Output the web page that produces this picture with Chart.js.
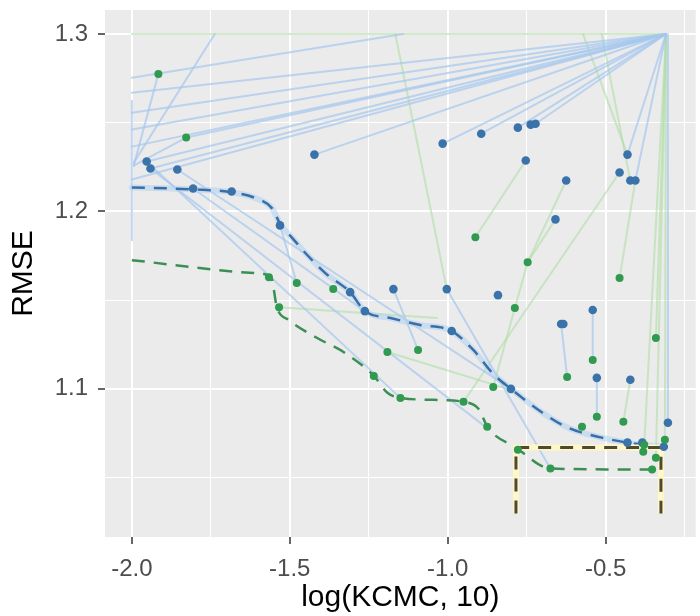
<!DOCTYPE html>
<html>
<head>
<meta charset="utf-8">
<script src="https://cdn.jsdelivr.net/npm/chart.js@4.4.0/dist/chart.umd.min.js"></script>
<style>
  html, body { margin: 0; padding: 0; background: #fff; }
  #wrap { width: 700px; height: 616px; }
</style>
</head>
<body>
<div id="wrap"><canvas id="chart" width="700" height="616"></canvas></div>
<script>
// axis ranges and ticks
const xLimits = [-2.085, -0.215];
const yLimits = [1.0165, 1.3135];
const xMajorTicks = [-2.0, -1.5, -1.0, -0.5];
const xMinorTicks = [-1.75, -1.25, -0.75, -0.25];
const yMajorTicks = [1.1, 1.2, 1.3];
const yMinorTicks = [1.05, 1.15, 1.25];

// configurations (dark dots)
const bluePoints = [
  [-1.953, 1.2281], [-1.941, 1.2242], [-1.856, 1.2236], [-1.806, 1.2129], [-1.684, 1.2112],
  [-1.531, 1.1921], [-1.422, 1.232], [-1.309, 1.1545], [-1.2625, 1.1438], [-1.172, 1.1562],
  [-1.016, 1.2382], [-1.003, 1.1562], [-0.9875, 1.1326], [-0.894, 1.2438], [-0.841, 1.1528],
  [-0.8, 1.1], [-0.778, 1.2472], [-0.753, 1.2287], [-0.7375, 1.2489], [-0.722, 1.2494],
  [-0.659, 1.1955], [-0.641, 1.1365], [-0.634, 1.1365], [-0.625, 1.2174], [-0.541, 1.1444],
  [-0.528, 1.1062], [-0.456, 1.2219], [-0.431, 1.232], [-0.422, 1.2174], [-0.406, 1.2174],
  [-0.422, 1.1051], [-0.431, 1.0697], [-0.384, 1.0697], [-0.316, 1.0674], [-0.303, 1.0809]
];
const greenPoints = [
  [-1.916, 1.2775], [-1.828, 1.2416], [-1.566, 1.1629], [-1.534, 1.146], [-1.478, 1.1596],
  [-1.3625, 1.1562], [-1.234, 1.1073], [-1.191, 1.1208], [-1.15, 1.0949], [-1.094, 1.1219],
  [-0.95, 1.0927], [-0.9125, 1.1854], [-0.875, 1.0787], [-0.856, 1.1011], [-0.7875, 1.1455],
  [-0.778, 1.0657], [-0.747, 1.1713], [-0.675, 1.0551], [-0.622, 1.1067], [-0.575, 1.0787],
  [-0.541, 1.1163], [-0.528, 1.0843], [-0.456, 1.1624], [-0.444, 1.0815], [-0.381, 1.0646],
  [-0.378, 1.0685], [-0.353, 1.0545], [-0.341, 1.0612], [-0.341, 1.1287], [-0.3125, 1.0713]
];

// best-so-far fronts (dashed)
const blueFront = [
  [-2.0, 1.2135], [-1.806, 1.2124], [-1.681, 1.2107], [-1.606, 1.2073], [-1.556, 1.2017],
  [-1.528, 1.1921], [-1.494, 1.1854], [-1.45, 1.1764], [-1.3875, 1.1652], [-1.309, 1.1545],
  [-1.2625, 1.1438], [-1.181, 1.1399], [-1.0875, 1.136], [-0.9875, 1.1326], [-0.919, 1.1219],
  [-0.856, 1.1084], [-0.8, 1.1], [-0.7, 1.0865], [-0.619, 1.0781], [-0.5125, 1.0725],
  [-0.431, 1.0697], [-0.384, 1.0685], [-0.316, 1.0674]
];
const greenFront = [
  [-2.0, 1.1725], [-1.606, 1.1652], [-1.559, 1.1629], [-1.541, 1.1461], [-1.503, 1.1388],
  [-1.419, 1.1292], [-1.325, 1.1202], [-1.234, 1.1073], [-1.191, 1.0978], [-1.15, 1.0949],
  [-1.044, 1.0938], [-0.95, 1.0927], [-0.9, 1.0882], [-0.875, 1.0787], [-0.784, 1.0669],
  [-0.675, 1.0551], [-0.347, 1.0545]
];
const bestBox = [[-0.784, 1.0298], [-0.784, 1.0669], [-0.325, 1.0669], [-0.325, 1.0298]];

// faint search trails
const blueTrails = [
  [[-2.0, 1.1837], [-2.0, 1.2624]],
  [[-0.303, 1.3], [-0.303, 1.0809]],
  [[-2.0, 1.2753], [-1.141, 1.3]],
  [[-1.994, 1.2275], [-1.7375, 1.3]],
  [[-1.994, 1.2258], [-1.916, 1.2775]],
  [[-2.0, 1.2669], [-0.309, 1.3]],
  [[-2.0, 1.2556], [-0.309, 1.3]],
  [[-2.0, 1.2461], [-0.309, 1.3]],
  [[-2.0, 1.2365], [-0.309, 1.3]],
  [[-1.953, 1.2281], [-0.309, 1.3]],
  [[-1.941, 1.2242], [-0.309, 1.3]],
  [[-2.0, 1.218], [-0.309, 1.3]],
  [[-1.994, 1.2258], [-1.828, 1.2416], [-0.309, 1.3]],
  [[-1.422, 1.232], [-0.309, 1.3]],
  [[-1.016, 1.2382], [-0.309, 1.3]],
  [[-0.894, 1.2438], [-0.309, 1.3]],
  [[-0.778, 1.2472], [-0.309, 1.3]],
  [[-0.722, 1.2494], [-0.309, 1.3]],
  [[-0.431, 1.232], [-0.309, 1.3]],
  [[-0.406, 1.2174], [-0.309, 1.3]],
  [[-1.953, 1.2281], [-1.15, 1.0949]],
  [[-1.941, 1.2242], [-0.869, 1.077]],
  [[-1.856, 1.2236], [-0.8, 1.1]],
  [[-1.806, 1.2129], [-1.2625, 1.1438]],
  [[-1.003, 1.1562], [-0.675, 1.0551]],
  [[-1.531, 1.1921], [-1.478, 1.1596]],
  [[-1.172, 1.1562], [-1.094, 1.1219]],
  [[-0.641, 1.1365], [-0.622, 1.1067]],
  [[-0.541, 1.1444], [-0.541, 1.1163]],
  [[-0.528, 1.1062], [-0.528, 1.0843]]
];
const greenTrails = [
  [[-2.0, 1.3], [-0.309, 1.3]],
  [[-1.166, 1.3], [-1.003, 1.1562]],
  [[-0.753, 1.2287], [-0.9125, 1.1854]],
  [[-0.625, 1.2174], [-0.747, 1.1713], [-0.7875, 1.1455]],
  [[-0.659, 1.1955], [-0.747, 1.1713]],
  [[-0.456, 1.2219], [-0.95, 1.0927]],
  [[-0.7875, 1.1455], [-0.856, 1.1011]],
  [[-0.572, 1.3], [-0.431, 1.232]],
  [[-0.5125, 1.3], [-0.422, 1.2174]],
  [[-0.406, 1.2174], [-0.456, 1.1624]],
  [[-0.309, 1.3], [-0.341, 1.1287]],
  [[-0.309, 1.3], [-0.378, 1.0685]],
  [[-0.309, 1.3], [-0.341, 1.0612]],
  [[-0.309, 1.3], [-0.3125, 1.0713]],
  [[-1.534, 1.146], [-1.034, 1.1399]],
  [[-1.191, 1.1208], [-0.8, 1.0994]],
  [[-0.422, 1.1051], [-0.444, 1.0815]]
];

const toXY = arr => arr.map(p => ({ x: p[0], y: p[1] }));
const FONT = "'Liberation Sans', Arial, Helvetica, sans-serif";

const panelBg = {
  id: 'panelBg',
  beforeDraw(chart) {
    const { ctx, chartArea: a } = chart;
    ctx.save();
    ctx.fillStyle = '#ffffff';
    ctx.fillRect(0, 0, chart.width, chart.height);
    ctx.fillStyle = '#ebebeb';
    ctx.fillRect(a.left, a.top, a.right - a.left, a.bottom - a.top);
    ctx.restore();
  }
};

function lineSet(points, color, width, extra) {
  return Object.assign({
    type: 'scatter',
    data: toXY(points),
    showLine: true,
    borderColor: color,
    borderWidth: width,
    pointRadius: 0,
    borderCapStyle: 'round',
    borderJoinStyle: 'round',
    tension: 0
  }, extra || {});
}

const datasets = [];
greenTrails.forEach(t => datasets.push(lineSet(t, 'rgba(175,222,165,0.6)', 2, { order: 6 })));
blueTrails.forEach(t => datasets.push(lineSet(t, 'rgba(165,200,238,0.7)', 2, { order: 5 })));
datasets.push(lineSet(blueFront, 'rgba(175,210,242,0.55)', 6, { order: 4, cubicInterpolationMode: 'monotone' }));
datasets.push(lineSet(blueFront, '#3a6ea6', 2.5, { order: 3, borderDash: [13, 9], borderCapStyle: 'butt', cubicInterpolationMode: 'monotone' }));
datasets.push(lineSet(greenFront, '#3b8f55', 2.5, { order: 3, borderDash: [13, 9], borderCapStyle: 'butt', cubicInterpolationMode: 'monotone' }));
datasets.push(lineSet(bestBox, '#fff7c8', 6, { order: 2, borderCapStyle: 'butt', borderJoinStyle: 'miter' }));
datasets.push(lineSet(bestBox, '#4e4a32', 3, { order: 1, borderDash: [13, 9], borderCapStyle: 'butt', borderJoinStyle: 'miter' }));
datasets.push({ type: 'scatter', data: toXY(greenPoints), pointRadius: 4, pointBackgroundColor: '#2f9a50', pointBorderWidth: 0, order: 0 });
datasets.push({ type: 'scatter', data: toXY(bluePoints), pointRadius: 4.3, pointBackgroundColor: '#3a72aa', pointBorderWidth: 0, order: 0 });

const isMajor = (c, majors) => c.tick && majors.includes(c.tick.value);

new Chart(document.getElementById('chart'), {
  type: 'scatter',
  data: { datasets },
  plugins: [panelBg],
  options: {
    responsive: false,
    animation: false,
    devicePixelRatio: 1,
    layout: { padding: { top: 10, right: 0, left: 0, bottom: 0 } },
    plugins: { legend: { display: false }, tooltip: { enabled: false } },
    scales: {
      x: {
        type: 'linear',
        min: xLimits[0],
        max: xLimits[1],
        afterBuildTicks: s => { s.ticks = xMajorTicks.concat(xMinorTicks).sort((a, b) => a - b).map(v => ({ value: v })); },
        afterFit: s => { s.height = 79; s.paddingLeft = 0; s.paddingRight = 0; },
        border: { display: false },
        grid: {
          color: '#ffffff',
          lineWidth: c => isMajor(c, xMajorTicks) ? 2 : 1,
          tickLength: 7,
          tickWidth: 1.5,
          tickColor: c => isMajor(c, xMajorTicks) ? '#333333' : 'rgba(0,0,0,0)'
        },
        ticks: {
          autoSkip: false, maxRotation: 0, padding: 11, color: '#4d4d4d',
          font: { family: FONT, size: 24 },
          callback: v => xMajorTicks.includes(v) ? v.toFixed(1) : ''
        },
        title: { display: true, text: 'log(KCMC, 10)', color: '#000000', font: { family: FONT, size: 30 }, padding: { top: 0, bottom: 0 } }
      },
      y: {
        type: 'linear',
        min: yLimits[0],
        max: yLimits[1],
        afterBuildTicks: s => { s.ticks = yMajorTicks.concat(yMinorTicks).sort((a, b) => a - b).map(v => ({ value: v })); },
        afterFit: s => { s.width = 105; s.paddingTop = 0; s.paddingBottom = 0; },
        border: { display: false },
        grid: {
          color: '#ffffff',
          lineWidth: c => isMajor(c, yMajorTicks) ? 2 : 1,
          tickLength: 7,
          tickWidth: 1.5,
          tickColor: c => isMajor(c, yMajorTicks) ? '#333333' : 'rgba(0,0,0,0)'
        },
        ticks: {
          autoSkip: false, padding: 10, color: '#4d4d4d',
          font: { family: FONT, size: 24 },
          callback: v => yMajorTicks.includes(v) ? v.toFixed(1) : ''
        },
        title: { display: true, text: 'RMSE', color: '#000000', font: { family: FONT, size: 30 }, padding: { top: 6, bottom: 0 } }
      }
    }
  }
});
</script>
</body>
</html>
